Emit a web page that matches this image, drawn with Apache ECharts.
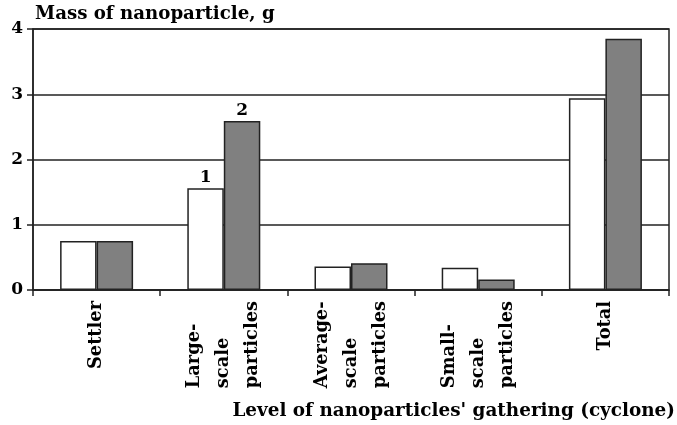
<!DOCTYPE html>
<html>
<head>
<meta charset="utf-8">
<script src="https://cdn.jsdelivr.net/npm/echarts@6/dist/echarts.min.js"></script>
<style>
  html, body { margin: 0; padding: 0; background: #fff; }
  #chart { width: 677px; height: 425px; }
</style>
</head>
<body>
<div id="chart"></div>
<script>
// data
const categories = ['Settler', 'Large-\nscale\nparticles', 'Average-\nscale\nparticles', 'Small-\nscale\nparticles', 'Total'];
const series1 = [0.75, 1.56, 0.36, 0.34, 2.94];
const series2 = [0.75, 2.59, 0.41, 0.16, 3.85];
const yTicks = [0, 1, 2, 3, 4];

const font = 'DejaVu Serif';
const ink = '#222';

const chart = echarts.init(document.getElementById('chart'));

// bar numbers "1" and "2" only sit above the large-scale pair
const withLabel = (vals, idx, text) => vals.map((v, i) => i === idx ? {
  value: v,
  label: { show: true, position: 'top', distance: 2, formatter: text }
} : v);

chart.setOption({
  backgroundColor: '#fff',
  animation: false,
  textStyle: { fontFamily: font, fontWeight: 'bold', color: '#000' },
  grid: {
    left: 33, right: 8, top: 29, bottom: 135,
    outerBoundsMode: 'none',
    show: true, borderColor: ink, borderWidth: 1.5
  },
  xAxis: {
    type: 'category',
    data: categories,
    name: "Level of nanoparticles' gathering (cyclone)",
    nameLocation: 'end',
    nameGap: 6,
    nameTextStyle: {
      fontFamily: font, fontWeight: 'bold', fontSize: 18.4, color: '#000',
      align: 'right', verticalAlign: 'top', padding: [112, 0, 0, 0]
    },
    axisLine: { lineStyle: { color: ink, width: 1.5 } },
    axisTick: { show: true, length: 6, lineStyle: { color: ink, width: 1.5 } },
    axisLabel: {
      rotate: 90,
      margin: 11,
      interval: 0,
      formatter: v => v.split('\n').map(s => '{a|' + s + '}').join('\n'),
      rich: {
        a: { fontFamily: font, fontWeight: 'bold', fontSize: 17.8, color: '#000', align: 'left', lineHeight: 29 }
      }
    }
  },
  yAxis: {
    type: 'value',
    min: 0, max: 4, interval: 1,
    name: 'Mass of nanoparticle, g',
    nameLocation: 'end',
    nameGap: 6,
    nameTextStyle: {
      fontFamily: font, fontWeight: 'bold', fontSize: 18.2, color: '#000',
      align: 'left', padding: [0, 0, 0, 2]
    },
    axisLine: { show: true, lineStyle: { color: ink, width: 1.5 } },
    axisTick: { show: true, length: 6, lineStyle: { color: ink, width: 1.5 } },
    axisLabel: {
      margin: 10,
      fontFamily: font, fontWeight: 'bold', fontSize: 17, color: '#000',
      formatter: v => yTicks.includes(v) ? String(v) : ''
    },
    splitLine: { show: true, lineStyle: { color: ink, width: 1.5 } }
  },
  series: [
    {
      type: 'bar',
      data: withLabel(series1, 1, '1'),
      barWidth: 36.5,
      barGap: '0%',
      itemStyle: { color: '#fff', borderColor: ink, borderWidth: 1.5 },
      label: { fontFamily: font, fontWeight: 'bold', fontSize: 17, color: '#000' }
    },
    {
      type: 'bar',
      data: withLabel(series2, 1, '2'),
      barWidth: 36.5,
      barGap: '0%',
      itemStyle: { color: '#808080', borderColor: ink, borderWidth: 1.5 },
      label: { fontFamily: font, fontWeight: 'bold', fontSize: 17, color: '#000' }
    }
  ]
});
</script>
</body>
</html>
